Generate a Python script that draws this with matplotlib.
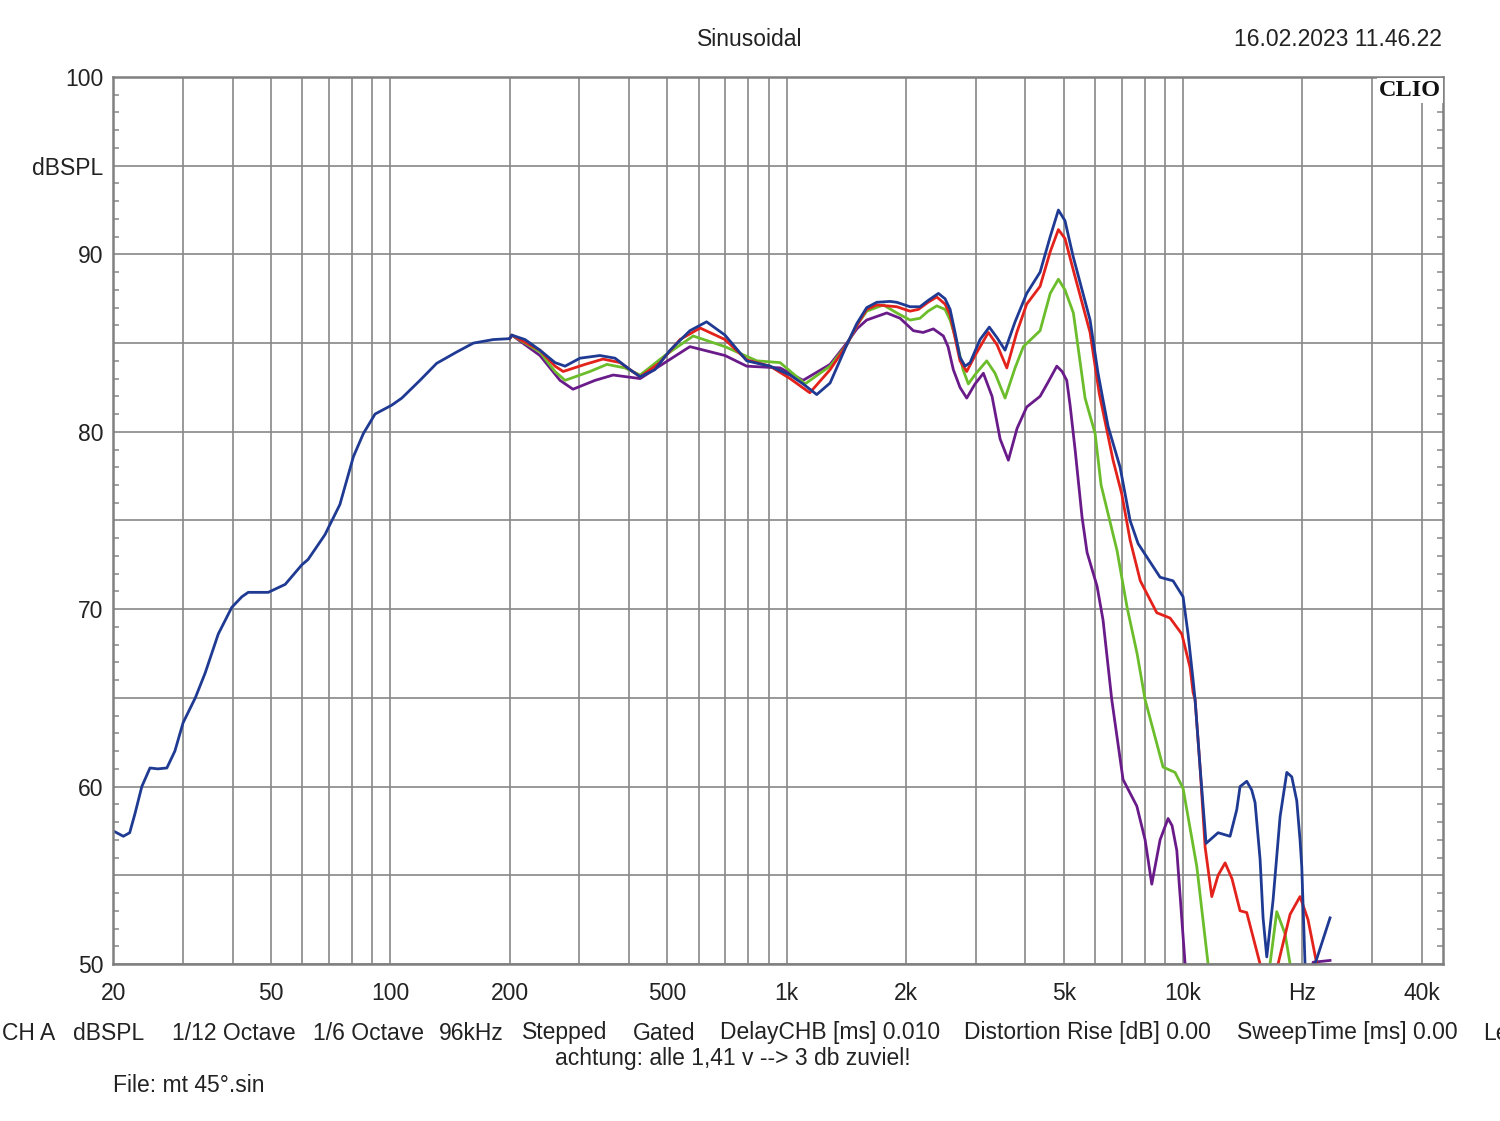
import matplotlib
matplotlib.use("Agg")
import matplotlib.pyplot as plt
from matplotlib.ticker import FixedLocator, FixedFormatter, MultipleLocator, NullFormatter

# --- data: (frequency Hz, level dBSPL) ---
# values below 50 dB are off the chart (curve leaves through the bottom)
blue = [(20, 57.5), (20.2, 57.45), (21.2, 57.2), (22.0, 57.4), (22.7, 58.5), (23.6, 60.0),
        (24.75, 61.05), (25.9, 61.0), (27.3, 61.05), (28.6, 62.0), (30.0, 63.6), (32.2, 65.0),
        (34.1, 66.4), (36.8, 68.6), (39.8, 70.1), (42.2, 70.7), (43.8, 70.95), (49.2, 70.95),
        (54.3, 71.4), (59.8, 72.5), (62.0, 72.8), (68.4, 74.2), (74.6, 75.9), (80.7, 78.6),
        (85.5, 79.9), (91.5, 81.0), (100.8, 81.5), (106.9, 81.9), (118.8, 82.9), (130.9, 83.86),
        (147.1, 84.5), (162.0, 85.0), (181.9, 85.2), (200, 85.25), (202.5, 85.45), (218.7, 85.2),
        (238.6, 84.6), (260.4, 83.9), (276, 83.7), (301, 84.15), (338, 84.3), (369, 84.15),
        (402.6, 83.5), (427, 83.1), (465, 83.5), (508, 84.6), (570, 85.7), (628, 86.2),
        (699, 85.45), (793, 84.0), (908, 83.7), (1020, 83.2), (1100, 82.7), (1191, 82.1),
        (1287, 82.75), (1418, 84.9), (1503, 86.1), (1592, 87.0), (1688, 87.3), (1824, 87.35),
        (1896, 87.3), (2048, 87.05), (2170, 87.05), (2274, 87.4), (2415, 87.8), (2510, 87.5),
        (2585, 86.9), (2660, 85.6), (2738, 84.2), (2820, 83.7), (2903, 83.9), (3076, 85.2),
        (3246, 85.9), (3396, 85.3), (3557, 84.6), (3770, 86.2), (4034, 87.8), (4360, 89.0),
        (4624, 91.0), (4849, 92.5), (5038, 91.9), (5281, 89.9), (5829, 86.3), (6106, 83.3),
        (6284, 81.8), (6473, 80.3), (6940, 78.0), (7355, 75.0), (7704, 73.7), (8755, 71.8),
        (9441, 71.6), (10006, 70.7), (10300, 68.6), (10606, 66.0), (10729, 64.9), (11044, 61.1),
        (11436, 56.8), (12264, 57.4), (13146, 57.2), (13668, 58.7), (13932, 60.0), (14484, 60.3),
        (14914, 59.8), (15202, 59.1), (15652, 55.9), (15926, 52.6), (16272, 50.4), (16878, 53.6),
        (17580, 58.3), (18280, 60.8), (18816, 60.55), (19370, 59.2), (19740, 57.0), (19940, 55.5),
        (20322, 50.0), (20900, 47.0), (21540, 50.0), (23500, 52.6)]

red = [(200, 85.25), (202.5, 85.45), (238.6, 84.6), (260.4, 83.7), (273, 83.4), (310, 83.8),
       (344, 84.1), (380, 83.9), (427, 83.1), (479, 83.9), (538, 85.2), (605, 85.85), (699, 85.2),
       (793, 84.05), (908, 83.7), (1020, 83.0), (1144, 82.2), (1287, 83.5), (1418, 84.9),
       (1503, 86.0), (1592, 86.9), (1688, 87.15), (1896, 87.05), (2048, 86.8), (2150, 86.9),
       (2274, 87.3), (2392, 87.6), (2510, 87.2), (2585, 86.6), (2660, 85.3), (2738, 84.0),
       (2847, 83.4), (2988, 84.3), (3228, 85.6), (3396, 84.9), (3593, 83.6), (3808, 85.6),
       (4034, 87.2), (4360, 88.2), (4624, 90.15), (4849, 91.4), (5038, 90.9), (5290, 89.1),
       (5829, 85.6), (6144, 82.2), (6662, 78.4), (7007, 76.5), (7355, 73.9), (7804, 71.6),
       (8588, 69.8), (9281, 69.5), (9933, 68.6), (10424, 66.7), (10606, 65.3), (10729, 64.9),
       (11044, 61.1), (11372, 56.6), (11822, 53.8), (12264, 55.0), (12774, 55.7), (13298, 54.8),
       (13932, 53.0), (14484, 52.9), (15652, 50.0), (16000, 47.5), (17000, 47.5), (17374, 50.0),
       (18632, 52.8), (19740, 53.8), (20680, 52.5), (21760, 50.0), (22200, 47.5)]

green = [(200, 85.25), (202.5, 85.45), (238.6, 84.5), (260.4, 83.4), (276, 82.9), (319, 83.4),
         (352, 83.8), (391, 83.6), (427, 83.2), (493, 84.3), (581, 85.4), (699, 84.8), (841, 84.0),
         (963, 83.9), (1113, 82.7), (1287, 83.7), (1418, 84.9), (1503, 86.0), (1592, 86.8),
         (1754, 87.15), (1896, 86.7), (2048, 86.3), (2170, 86.4), (2274, 86.8), (2392, 87.1),
         (2510, 86.9), (2585, 86.3), (2692, 85.0), (2787, 83.5), (2874, 82.7), (3006, 83.3),
         (3198, 84.0), (3356, 83.3), (3557, 81.9), (3770, 83.6), (3956, 84.8), (4360, 85.7),
         (4624, 87.8), (4849, 88.6), (5038, 88.0), (5290, 86.7), (5662, 81.9), (6002, 79.9),
         (6214, 77.0), (6818, 73.3), (7228, 70.1), (7660, 67.5), (8025, 64.9), (8908, 61.1),
         (9550, 60.8), (10006, 59.9), (10836, 55.5), (11572, 50.0), (11900, 47.5), (16200, 47.5),
         (16584, 50.0), (17244, 52.95), (18096, 51.7), (18632, 50.0), (19000, 47.5)]

purple = [(200, 85.25), (202.5, 85.45), (238.6, 84.3), (268, 82.9), (289, 82.4), (328.6, 82.9),
          (365, 83.2), (427, 83.0), (493, 83.9), (570, 84.8), (699, 84.3), (793, 83.7), (963, 83.6),
          (1100, 82.9), (1287, 83.8), (1418, 85.0), (1503, 85.8), (1592, 86.3), (1789, 86.7),
          (1933, 86.4), (2088, 85.7), (2210, 85.6), (2345, 85.8), (2486, 85.4), (2554, 84.8),
          (2634, 83.5), (2738, 82.5), (2847, 81.9), (2988, 82.7), (3136, 83.3), (3298, 82.0),
          (3456, 79.6), (3626, 78.4), (3815, 80.2), (4034, 81.4), (4360, 82.0), (4568, 82.8),
          (4805, 83.7), (4955, 83.4), (5090, 82.9), (5190, 81.5), (5343, 79.0), (5563, 75.2),
          (5728, 73.2), (6070, 71.3), (6284, 69.4), (6612, 64.9), (7060, 60.4), (7648, 58.9),
          (8025, 57.0), (8342, 54.5), (8755, 57.0), (9171, 58.2), (9386, 57.8), (9648, 56.4),
          (10124, 50.0), (10400, 47.5), (20800, 47.5), (21300, 50.1), (23500, 50.2)]

x_major = [20, 50, 100, 200, 500, 1000, 2000, 5000, 10000, 20000, 40000]
x_labels = ["20", "50", "100", "200", "500", "1k", "2k", "5k", "10k", "Hz", "40k"]
y_major = list(range(50, 101, 5))
y_labels = ["50", "", "60", "", "70", "", "80", "", "90", "dBSPL", "100"]

plt.rcParams['font.family'] = ['Liberation Sans', 'DejaVu Sans']
FS = 16.5
TXT = '#222222'
GRID = '#888888'

fig = plt.figure(figsize=(15, 11.21), dpi=100)
ax = fig.add_axes([113.3 / 1500, 157 / 1121, (1443 - 113.3) / 1500, 887 / 1121])

curves = [(purple, '#6a1b8a'), (green, '#6cbd2b'), (red, '#e3221c'), (blue, '#1f3a93')]
for pts, col in curves:
    f, db = zip(*pts)
    ax.plot(f, db, color=col, lw=2.0, solid_joinstyle='round')

ax.set_xscale('log')
ax.set_xlim(20, 45300)
ax.set_ylim(50, 100)

x_grid = [m * 10 ** e for e in range(1, 5) for m in range(1, 10)]
x_grid = [v for v in x_grid if 20 < v < 45000]
ax.xaxis.set_major_locator(FixedLocator(x_major))
ax.xaxis.set_major_formatter(FixedFormatter(x_labels))
ax.xaxis.set_minor_locator(FixedLocator(x_grid))
ax.xaxis.set_minor_formatter(NullFormatter())
ax.yaxis.set_major_locator(FixedLocator(y_major))
ax.yaxis.set_major_formatter(FixedFormatter(y_labels))
ax.yaxis.set_minor_locator(MultipleLocator(1))

ax.grid(True, which='both', axis='x', color=GRID, lw=1.2)
ax.grid(True, which='major', axis='y', color=GRID, lw=1.2)
ax.set_axisbelow(True)

ax.tick_params(axis='x', which='both', length=0, pad=13, labelsize=FS, labelcolor=TXT)
ax.tick_params(axis='y', which='major', length=0, pad=7, labelsize=FS, labelcolor=TXT)
ax.tick_params(axis='y', which='minor', direction='in', length=4.5, width=1.1,
               color=GRID, left=True, right=True)
for s in ax.spines.values():
    s.set_color('#808080')
    s.set_linewidth(1.8)

ax.text(0.9985, 0.9965, 'CLIO', transform=ax.transAxes, ha='right', va='top',
        fontsize=17.5, fontweight='bold', family=['Liberation Serif', 'DejaVu Serif'],
        color='#111111', bbox=dict(facecolor='white', edgecolor='none', pad=1.5), zorder=5)

def ftext(x, y, s, ha='left'):
    fig.text(x / 1500, 1 - y / 1121, s, ha=ha, va='center', fontsize=FS, color=TXT)

ftext(750, 40, 'Sinusoidal', ha='center')
ftext(1442, 40, '16.02.2023 11.46.22', ha='right')

bottom_items = [(2, 'CH A'), (73, 'dBSPL'), (172, '1/12 Octave'), (313, '1/6 Octave'),
                (439, '96kHz'), (522, 'Stepped'), (633, 'Gated'), (720, 'DelayCHB [ms] 0.010'),
                (964, 'Distortion Rise [dB] 0.00'), (1237, 'SweepTime [ms] 0.00'), (1483, 'Le')]
for bx, s in bottom_items:
    ftext(bx, 1033, s)
ftext(733, 1059, 'achtung: alle 1,41 v --> 3 db zuviel!', ha='center')
ftext(113, 1085, 'File: mt 45°.sin')

fig.savefig('out.png', dpi=100, facecolor='white')
